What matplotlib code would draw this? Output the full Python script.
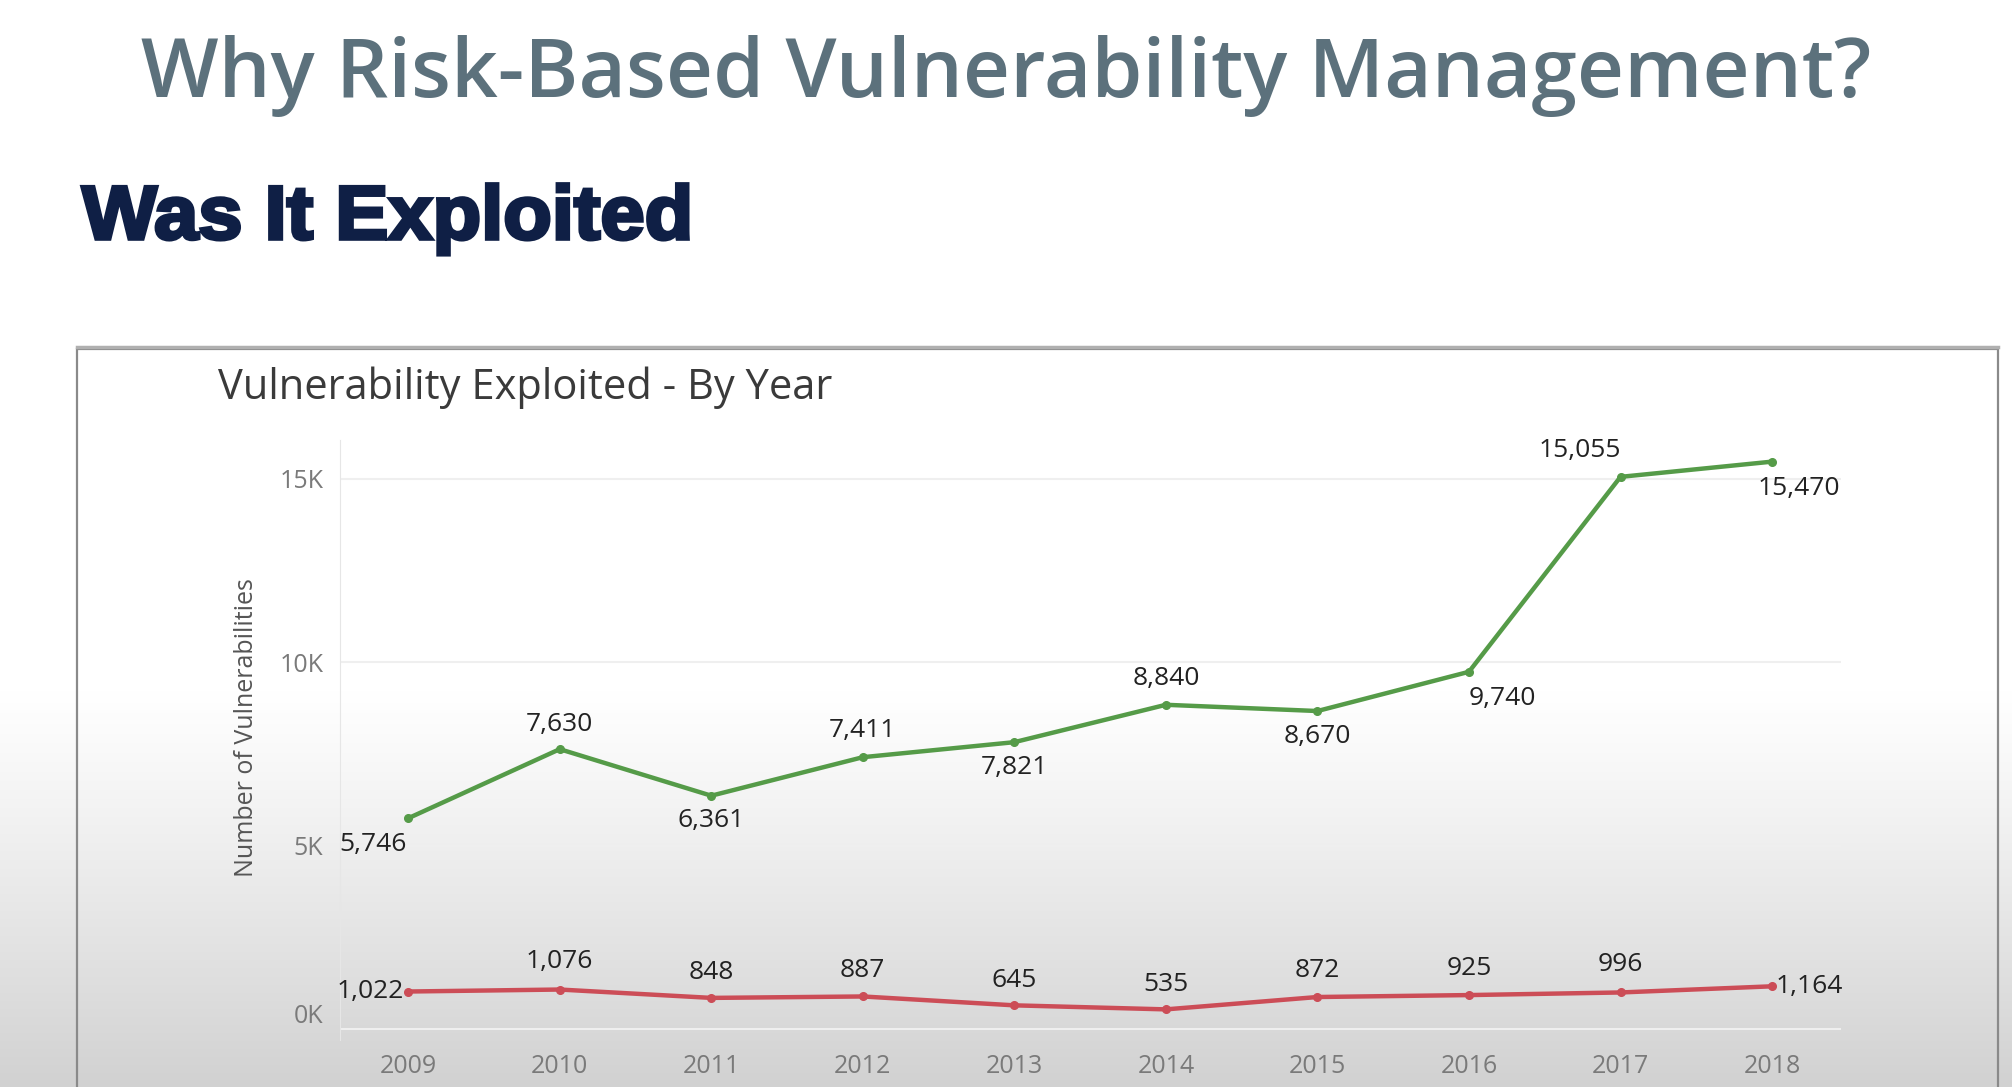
import numpy as np
import matplotlib.pyplot as plt
from matplotlib.patches import Rectangle, PathPatch
from matplotlib.textpath import TextPath
from matplotlib.font_manager import FontProperties
from matplotlib.transforms import Affine2D

# data
years = [2009, 2010, 2011, 2012, 2013, 2014, 2015, 2016, 2017, 2018]
total_vulns = [5746, 7630, 6361, 7411, 7821, 8840, 8670, 9740, 15055, 15470]
exploited = [1022, 1076, 848, 887, 645, 535, 872, 925, 996, 1164]
yticks = [0, 5000, 10000, 15000]
ytick_labels = ["0K", "5K", "10K", "15K"]

# label offsets (points) for each point label
green_off = [(-25, -19), (0, 18), (0, -18), (0, 19), (0, -18), (0, 19), (0, -18), (24, -19), (-29, 19), (19, -19)]
red_off = [(-27, 0), (0, 20), (0, 18), (0, 19), (0, 18), (0, 18), (0, 19), (0, 19), (0, 20), (27, 0)]

GREEN = "#559b48"
RED = "#cc4d57"
W, H = 2012, 1087

fig = plt.figure(figsize=(W / 100, H / 100), dpi=100)

# slide background: white fading into grey at the bottom (video shading)
bg = fig.add_axes([0, 0, 1, 1], zorder=-10)
bg.axis("off")
yy = np.arange(H)
g = np.ones(H)
start = 690
g[yy > start] = 1 - 0.18 * ((yy[yy > start] - start) / (H - start)) ** 1.1
img = np.stack([g, g, g], axis=-1)[:, None, :].repeat(2, axis=1)
bg.imshow(img, aspect="auto", extent=[0, 1, 0, 1], origin="upper")
bg.set_xlim(0, 1)
bg.set_ylim(0, 1)

# chart frame
bg.add_patch(Rectangle((77 / W, -0.01), (1998 - 77) / W, 1 - 349 / H + 0.01,
                       fill=False, edgecolor="#8a8a8a", linewidth=1.6))
bg.plot([77 / W, 1998 / W], [1 - 347 / H] * 2, color="#b0b0b0", lw=2.5)

fig.text(0.5, 0.930, "Why Risk-Based Vulnerability Management?", ha="center", va="center",
         fontsize=59, color="#5c717c", family="Open Sans", fontweight="semibold")

# heavy subtitle, stretched horizontally to mimic a black-weight face
tp = TextPath((0, 0), "Was It Exploited", size=76,
              prop=FontProperties(family="Liberation Sans", weight="bold"))
ext = tp.get_extents()
sx = 606 / ext.width
tr = Affine2D().translate(-ext.x0, 0).scale(sx, 1.0).translate(82, H - 239)
sub = PathPatch(tp, transform=tr, facecolor="#0f1f45", edgecolor="#0f1f45", lw=2.6)
fig.add_artist(sub)

fig.text(218 / W, 1 - 388 / H, "Vulnerability Exploited - By Year", ha="left", va="center",
         fontsize=30, color="#3a3a3a", family="Open Sans")

ax = fig.add_axes([340 / W, 1 - 1040 / H, (1841 - 340) / W, (1040 - 440) / H])
ax.patch.set_alpha(0)
ax.set_xlim(2008.55, 2018.455)
ax.set_ylim(-300, 16060)

ax.plot(years, total_vulns, color=GREEN, lw=3.2, marker="o", ms=5.5, zorder=3)
ax.plot(years, exploited, color=RED, lw=3.2, marker="o", ms=5.5, zorder=3)

for x, v, o in zip(years, total_vulns, green_off):
    ax.annotate(f"{v:,}", (x, v), xytext=o, textcoords="offset points", ha="center", va="center",
                fontsize=19, color="#222222", family="Open Sans")
for x, v, o in zip(years, exploited, red_off):
    ax.annotate(f"{v:,}", (x, v), xytext=o, textcoords="offset points", ha="center", va="center",
                fontsize=19, color="#222222", family="Open Sans")

ax.set_yticks(yticks)
ax.set_yticklabels(ytick_labels)
ax.set_xticks(years)
ax.set_xticklabels([str(y) for y in years])
ax.tick_params(length=0, labelsize=18, labelcolor="#7a7a7a", pad=10)
ax.tick_params(axis="y", pad=12)
for lab in ax.get_yticklabels():
    lab.set_family("Open Sans")
for lab in ax.get_xticklabels():
    lab.set_family("Open Sans")
ax.get_yticklabels()[0].set_va("bottom")

ax.grid(axis="y", color="#efefef", lw=1.5)
ax.grid(axis="x", visible=False)
for s in ["top", "right", "bottom"]:
    ax.spines[s].set_visible(False)
ax.spines["left"].set_color("#e6e6e6")
ax.set_ylabel("Number of Vulnerabilities", fontsize=18, color="#555555", family="Open Sans")
ax.yaxis.set_label_coords(-0.054, 0.52)

fig.savefig("out.png", dpi=100)
